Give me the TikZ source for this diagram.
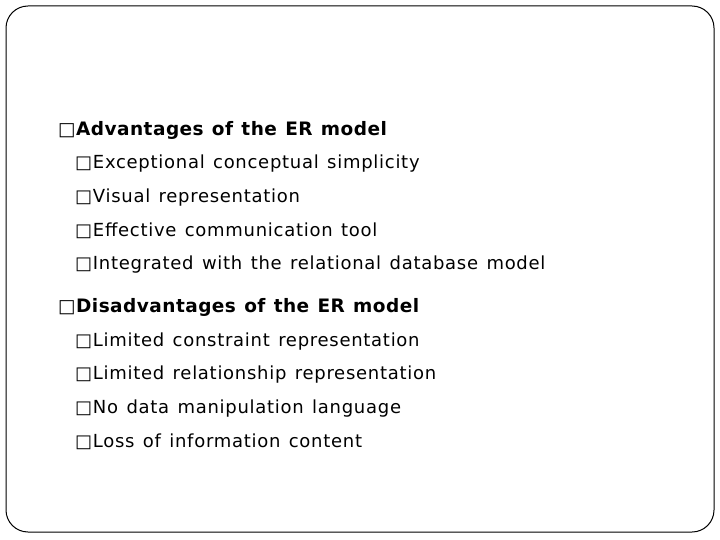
\documentclass[tikz,border=0pt]{standalone}
\usepackage{fontspec}
\setmainfont{DejaVu Sans}
\newfontfamily\itemfont[LetterSpace=4,WordSpace=1.3]{DejaVu Sans}
\newfontfamily\headfont[LetterSpace=2.5,WordSpace=1.2]{DejaVu Sans}
\begin{document}
\begin{tikzpicture}[x=1pt,y=-1pt,
  head/.style={anchor=west,inner sep=0pt,font=\headfont\fontsize{18.5}{20}\selectfont\bfseries},
  item/.style={anchor=west,inner sep=0pt,font=\itemfont\fontsize{18}{20}\selectfont}]
\useasboundingbox (0,0) rectangle (720,540);
\draw[line width=1pt,rounded corners=22pt] (6,6) rectangle (714,532);
\node[head] (a) at (58,130) {□Advantages of the ER model};
\node[item] (a1) at (75,164) {□Exceptional conceptual simplicity};
\node[item] (a2) at (75,198) {□Visual representation};
\node[item] (a3) at (75,231) {□Effective communication tool};
\node[item] (a4) at (75,265) {□Integrated with the relational database model};
\node[head] (d) at (58,307) {□Disadvantages of the ER model};
\node[item] (d1) at (75,342) {□Limited constraint representation};
\node[item] (d2) at (75,375) {□Limited relationship representation};
\node[item] (d3) at (75,409) {□No data manipulation language};
\node[item] (d4) at (75,442) {□Loss of information content};
\end{tikzpicture}
\end{document}
